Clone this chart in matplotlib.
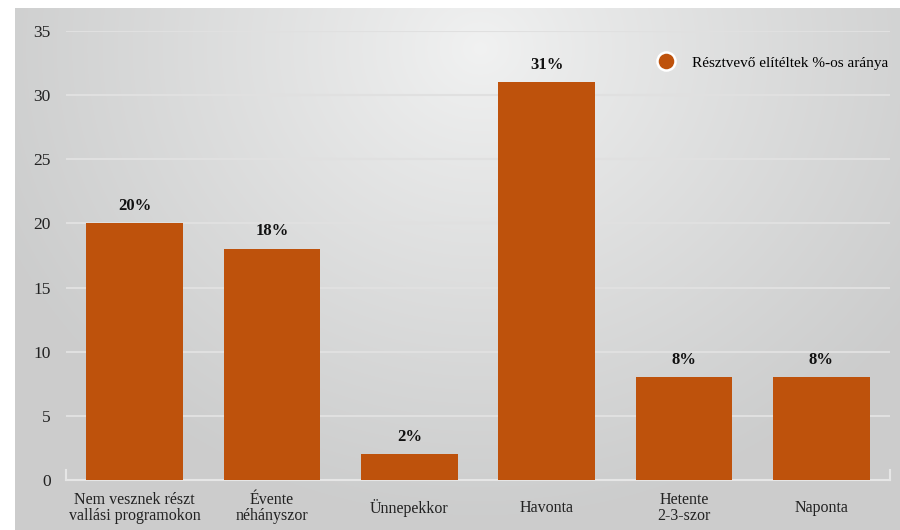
import numpy as np
import matplotlib
matplotlib.use("Agg")
import matplotlib.pyplot as plt
from matplotlib.lines import Line2D

# participation in religious programmes
categories = ["Nem vesznek részt\nvallási programokon", "Évente\nnéhányszor", "Ünnepekkor",
              "Havonta", "Hetente\n2-3-szor", "Naponta"]
values = [20, 18, 2, 31, 8, 8]
value_labels = ["20%", "18%", "2%", "31%", "8%", "8%"]
yticks = [0, 5, 10, 15, 20, 25, 30, 35]
series_name = "Résztvevő elítéltek %-os aránya"

bar_color = "#BE520C"
grid_color = "#e0e0e0"
plt.rcParams['font.family'] = ['Liberation Serif', 'DejaVu Serif']

fig = plt.figure(figsize=(9, 5.3), dpi=100)
fig.patch.set_facecolor("white")

# radial gradient background
bg = fig.add_axes([15 / 900, 0, 885 / 900, 522 / 530])
bg.set_axis_off()
W, H = 885, 522
xx, yy = np.meshgrid(np.arange(W), np.arange(H))
d = np.sqrt(((xx - 465) / 520) ** 2 + ((yy - 40) / 470) ** 2)
d = np.clip(d, 0, 1)
shade = 0.945 - (0.945 - 0.80) * d ** 0.9
img = np.dstack([shade, shade + 0.003, shade + 0.003])
bg.imshow(np.clip(img, 0, 1), aspect="auto", extent=[0, 1, 0, 1], origin="upper")
bg.set_xlim(0, 1)
bg.set_ylim(0, 1)

ax = fig.add_axes([66 / 900, 50 / 530, 824 / 900, 449 / 530])
ax.patch.set_alpha(0)
x = np.arange(len(categories))
ax.set_xlim(-0.5, len(categories) - 0.5)
ax.set_ylim(0, 35)

for yv in yticks[1:]:
    ax.axhline(yv, color=grid_color, lw=1.5, zorder=1)
ax.plot([-0.5, len(categories) - 0.5], [0, 0], color="#e6e6e6", lw=1.5, zorder=1, clip_on=False)
ax.plot([-0.5, -0.5], [0, 0.8], color="#e6e6e6", lw=1.5, zorder=1, clip_on=False)
ax.plot([5.5, 5.5], [0, 0.8], color="#e6e6e6", lw=1.5, zorder=1, clip_on=False)

ax.bar(x, values, width=0.705, color=bar_color, zorder=2)
for xi, v, lab in zip(x, values, value_labels):
    ax.text(xi, v + 0.75, lab, ha="center", va="bottom", fontsize=12, fontweight="bold", color="#111111")

for s in ax.spines.values():
    s.set_visible(False)
ax.set_yticks(yticks)
ax.set_yticklabels([str(t) for t in yticks], fontsize=12.5, color="#222222")
ax.set_xticks(x)
ax.set_xticklabels(categories, fontsize=11.5, color="#222222", linespacing=1.0)
for t in ax.get_xticklabels():
    t.set_va("center")
ax.tick_params(axis="y", length=0, pad=11)
ax.tick_params(axis="x", length=0, pad=20)

handle = Line2D([], [], marker="o", linestyle="none", markersize=13,
                markerfacecolor=bar_color, markeredgecolor="white", markeredgewidth=1.8)
leg = ax.legend([handle], [series_name], loc="center right", bbox_to_anchor=(1.005, 0.929),
                frameon=False, fontsize=11, handletextpad=0.7, borderaxespad=0)

fig.savefig("out.png", dpi=100)
